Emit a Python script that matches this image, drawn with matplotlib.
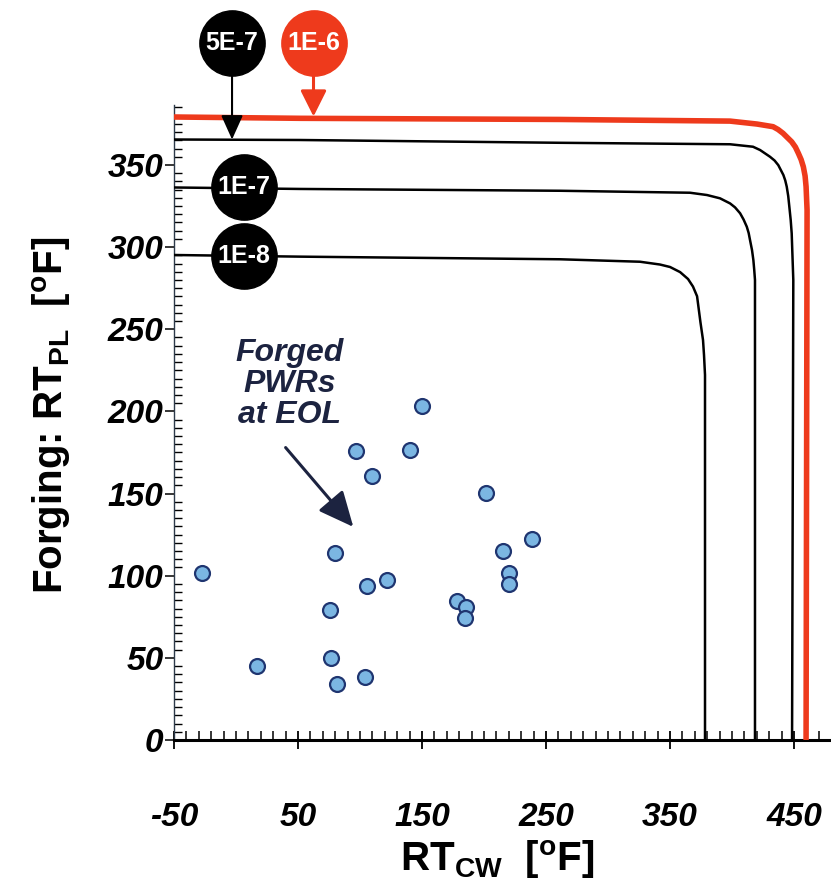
import matplotlib
matplotlib.use("Agg")
import matplotlib.pyplot as plt
from matplotlib.ticker import MultipleLocator, FixedLocator

plt.rcParams['font.family'] = ['Liberation Sans', 'DejaVu Sans']
plt.rcParams['mathtext.fontset'] = 'custom'
plt.rcParams['mathtext.rm'] = 'Liberation Sans:bold'
plt.rcParams['mathtext.bf'] = 'Liberation Sans:bold'
plt.rcParams['mathtext.it'] = 'Liberation Sans:bold:italic'

# Failure-probability contours (RT_CW, RT_PL) in degF
curve_1e8_x = [-50, 51.6, 261.3, 325.8, 341.9, 350, 358.1, 364.5, 368.5, 371.8,
               374.5, 376.6, 377.4, 378.2, 378.2]
curve_1e8_y = [295.2, 294.2, 292.6, 291.1, 289.4, 287.9, 284.8, 280.6, 276.0, 270.1,
               254.4, 243.4, 234.3, 222.2, 0]

curve_1e7_x = [-50, 51.6, 261.3, 366.1, 379.8, 390.3, 398.4, 402.4, 406.5, 409.3,
               411.9, 413.4, 414.5, 416.1, 417.2, 417.9, 418.5, 418.5]
curve_1e7_y = [336.3, 335.4, 334.3, 333.1, 331.7, 329.7, 326.6, 324.2, 320.6, 316.8,
               312.4, 308.6, 304.3, 298.2, 292.1, 286.1, 280.0, 0]

curve_5e7_x = [-50, 51.6, 261.3, 398.4, 416.9, 422.6, 430.6, 434.3, 437.3, 441.4,
               442.9, 444.1, 445.3, 446.2, 447.3, 448.1, 449.4, 448.4]
curve_5e7_y = [365.5, 365.2, 363.5, 362.6, 361.1, 359.1, 355.0, 352.7, 349.9, 343.9,
               340.6, 336.8, 331.1, 324.6, 316.5, 308.4, 280.0, 0]

curve_1e6_x = [-50, 51.6, 261.3, 398.4, 420.2, 433.1, 437.1, 441.1, 448.1, 451.1,
               453.5, 455.7, 457.5, 458.9, 459.7, 460.5, 459.7]
curve_1e6_y = [379.2, 378.4, 377.7, 376.7, 374.9, 373.3, 371.6, 369.3, 364.1, 360.9,
               357.1, 353.3, 348.9, 343.3, 336.8, 322.6, 0]

# Forged PWR vessels at end of life
pwr_rtcw = [-27.4, 16.9, 76.6, 81.5, 75.8, 79.8, 96.8, 109.7, 105.6, 121.8, 104.0,
            140.3, 150.0, 201.6, 238.7, 215.3, 220.2, 220.2, 178.2, 185.5, 184.7]
pwr_rtpl = [101.6, 45.0, 49.9, 34.1, 79.1, 113.8, 175.9, 160.7, 93.7, 97.4, 38.3,
            176.5, 203.3, 150.3, 122.3, 115.0, 101.6, 94.9, 84.6, 80.9, 74.3]

x_major = [-50, 50, 150, 250, 350, 450]
y_major = [0, 50, 100, 150, 200, 250, 300, 350]

RED = '#ee3a1c'
NAVY = '#1c2340'
TICK_FONT = ['Liberation Sans Narrow', 'Liberation Sans', 'DejaVu Sans']

fig = plt.figure(figsize=(8.31, 8.85), dpi=100)
ax = fig.add_axes([174 / 831, 1 - 740 / 885, (831 - 174) / 831, (740 - 105) / 885])
ax.set_xlim(-50, 479.8)
ax.set_ylim(0, 386.5)

for cx, cy in [(curve_1e8_x, curve_1e8_y), (curve_1e7_x, curve_1e7_y),
               (curve_5e7_x, curve_5e7_y)]:
    ax.plot(cx, cy, color='black', lw=1.8, zorder=3, solid_joinstyle='round')
ax.plot(curve_1e6_x, curve_1e6_y, color=RED, lw=4.0, zorder=3,
        solid_capstyle='butt', solid_joinstyle='round')

ax.scatter(pwr_rtcw, pwr_rtpl, s=115, facecolor='#7bb6e2', edgecolor='#1f3570',
           linewidth=1.6, zorder=4)

# Contour labels
def badge(x, y, text, color):
    ax.plot([x], [y], 'o', ms=47, color=color, mec=color, zorder=6, clip_on=False)
    ax.text(x, y, text, color='white', fontsize=18, fontweight='bold',
            ha='center', va='center', zorder=7, clip_on=False)

badge(-3.2, 424.5, '5E-7', 'black')
badge(62.5, 424.2, '1E-6', RED)
badge(6.5, 336.8, '1E-7', 'black')
badge(6.5, 294.3, '1E-8', 'black')

ax.annotate('', xy=(-3.2, 365.5), xytext=(-3.2, 405),
            arrowprops=dict(arrowstyle='-|>,head_length=1.0,head_width=0.45',
                            mutation_scale=15, color='black', lw=1.5,
                            shrinkA=0, shrinkB=0), annotation_clip=False, zorder=5)
ax.annotate('', xy=(62.5, 379.5), xytext=(62.5, 404),
            arrowprops=dict(arrowstyle='-|>,head_length=1.0,head_width=0.5',
                            mutation_scale=16, color=RED, lw=2.2,
                            shrinkA=0, shrinkB=0), annotation_clip=False, zorder=5)

ax.text(43.5, 216.5, 'Forged\nPWRs\nat EOL', color=NAVY, fontsize=23,
        fontweight='bold', fontstyle='italic', ha='center', va='center',
        multialignment='center', linespacing=1.05)
ax.annotate('', xy=(94.6, 129.7), xytext=(40, 178),
            arrowprops=dict(arrowstyle='-|>,head_length=1.2,head_width=0.55',
                            mutation_scale=18, color=NAVY, lw=2.2,
                            shrinkA=0, shrinkB=0))

# Axes styling
ax.spines['top'].set_visible(False)
ax.spines['right'].set_visible(False)
ax.spines['left'].set_color('#2d3a4a')
ax.spines['left'].set_linewidth(1.0)
ax.spines['bottom'].set_linewidth(2.2)

ax.xaxis.set_major_locator(FixedLocator(x_major))
ax.xaxis.set_minor_locator(MultipleLocator(10))
ax.yaxis.set_major_locator(FixedLocator(y_major))
ax.yaxis.set_minor_locator(MultipleLocator(5))
ax.set_xticklabels([str(v) for v in x_major])
ax.set_yticklabels([str(v) for v in y_major])

ax.tick_params(axis='x', which='major', direction='inout', length=13, width=1.3,
               pad=38, labelsize=24)
ax.tick_params(axis='x', which='minor', direction='in', length=6.5, width=1.1)
ax.tick_params(axis='y', which='major', direction='out', length=6.5, width=1.1,
               pad=1, labelsize=24)
ax.tick_params(axis='y', which='minor', direction='in', length=6, width=1.0)
for lab in ax.get_xticklabels() + ax.get_yticklabels():
    lab.set_family(TICK_FONT)
    lab.set_fontweight('bold')
    lab.set_fontstyle('italic')

fig.text(497 / 831, 1 - 860 / 885, r'RT$_{\mathbf{CW}}$  [$^{\mathbf{o}}$F]',
         fontsize=29, fontweight='bold', ha='center', va='center')
fig.text(52 / 831, 1 - 415 / 885, r'Forging: RT$_{\mathbf{PL}}$  [$^{\mathbf{o}}$F]',
         fontsize=29, fontweight='bold', ha='center', va='center', rotation=90)

fig.savefig('out.png', dpi=100)
